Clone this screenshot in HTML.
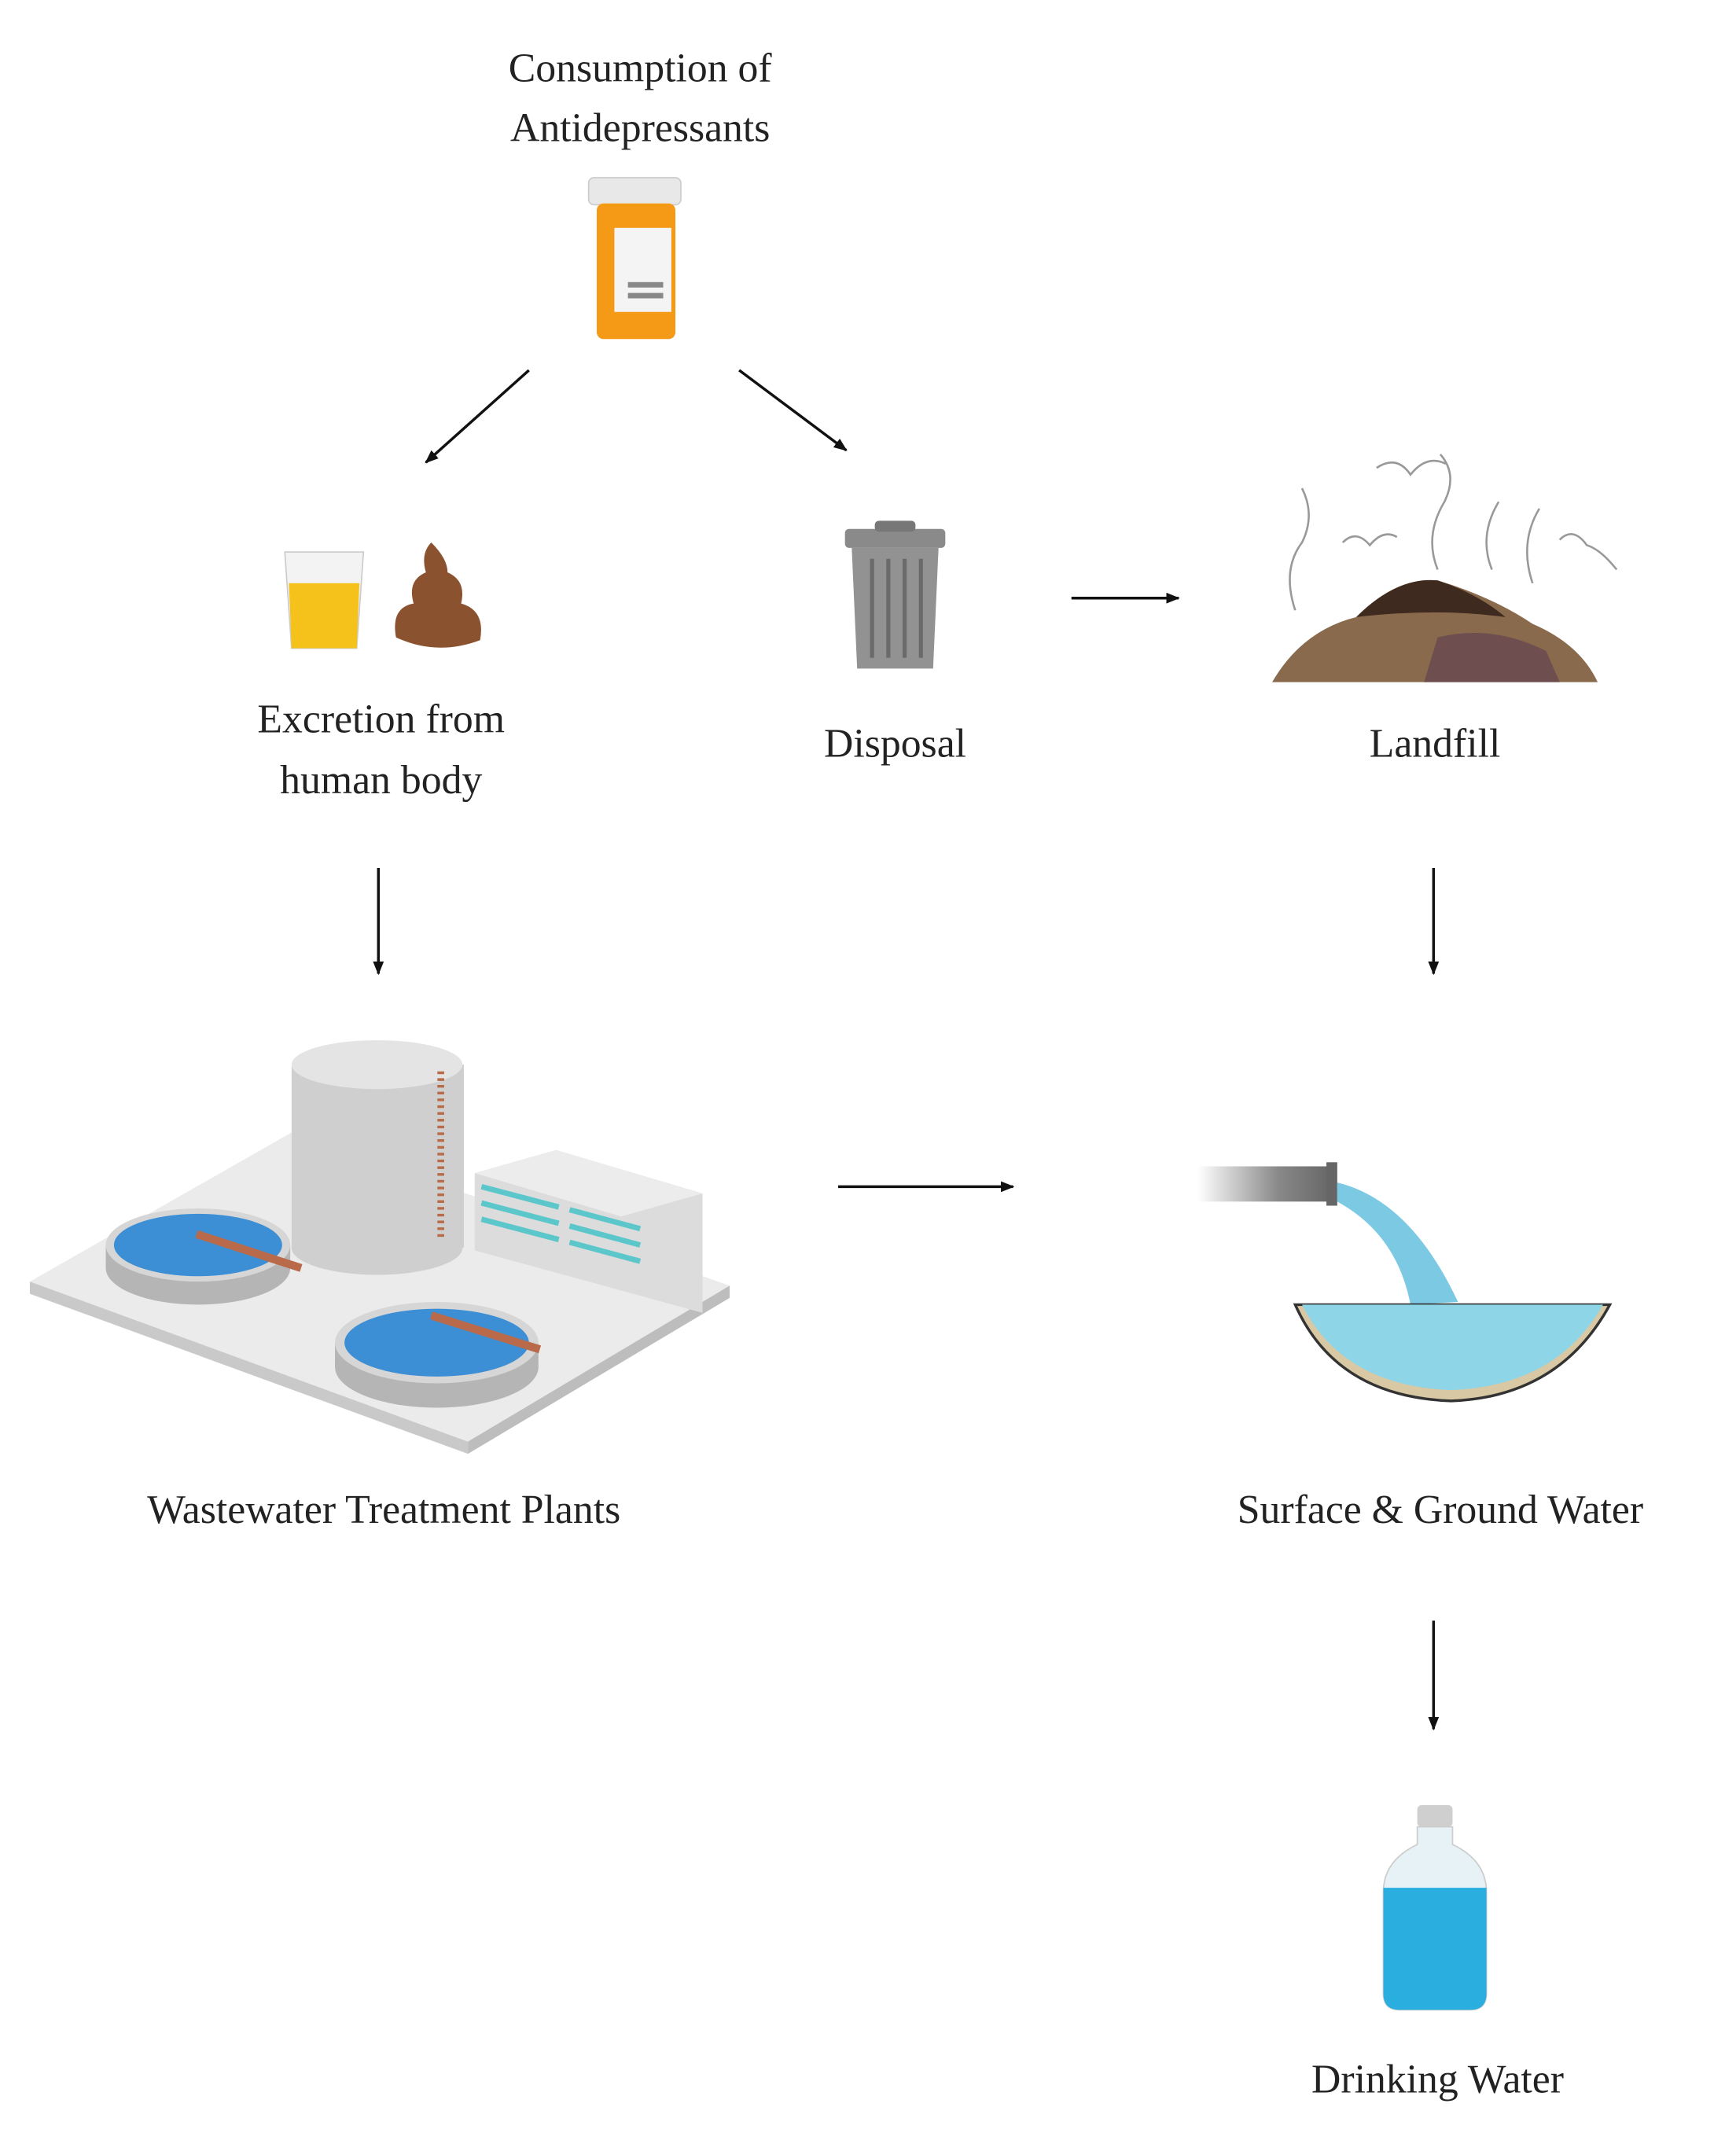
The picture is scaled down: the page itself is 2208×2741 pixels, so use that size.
<!DOCTYPE html>
<html><head><meta charset="utf-8"><style>
html,body{margin:0;padding:0;background:#fff;}
svg{display:block;}
text{font-family:"Liberation Serif",serif;fill:#222;}
</style></head><body>
<svg width="2208" height="2741" viewBox="0 0 1280 1589" preserveAspectRatio="none" xmlns="http://www.w3.org/2000/svg">
<defs>
<marker id="ah" markerWidth="10" markerHeight="10" refX="9" refY="5" orient="auto" markerUnits="userSpaceOnUse">
<path d="M0,1 L10,5 L0,9 Z" fill="#111"/></marker>
<linearGradient id="pipe" x1="0" x2="1"><stop offset="0" stop-color="#fff"/><stop offset="0.6" stop-color="#888"/><stop offset="1" stop-color="#666"/></linearGradient>
</defs>
<g font-size="30" text-anchor="middle">
<text x="472" y="60">Consumption of</text>
<text x="472" y="104">Antidepressants</text>
<text x="281" y="540">Excretion from</text>
<text x="281" y="585">human body</text>
<text x="660" y="558">Disposal</text>
<text x="1058" y="558">Landfill</text>
<text x="283" y="1123">Wastewater Treatment Plants</text>
<text x="1062" y="1123">Surface &amp; Ground Water</text>
<text x="1060" y="1543">Drinking Water</text>
</g>
<g stroke="#111" stroke-width="2" fill="none" marker-end="url(#ah)">
<line x1="390" y1="273" x2="314" y2="341"/>
<line x1="545" y1="273" x2="624" y2="332"/>
<line x1="790" y1="441" x2="869" y2="441"/>
<line x1="279" y1="640" x2="279" y2="718"/>
<line x1="1057" y1="640" x2="1057" y2="718"/>
<line x1="618" y1="875" x2="747" y2="875"/>
<line x1="1057" y1="1195" x2="1057" y2="1275"/>
</g>
<!-- pill bottle -->
<rect x="434" y="131" width="68" height="20" rx="4" fill="#e8e8e8" stroke="#ccc"/>
<rect x="440" y="150" width="58" height="100" rx="5" fill="#f59a16"/>
<rect x="453" y="168" width="42" height="62" fill="#f4f4f4"/>
<rect x="463" y="208" width="26" height="4" fill="#888"/><rect x="463" y="216" width="26" height="4" fill="#888"/>
<!-- urine cup -->
<path d="M210,407 L268,407 L263,478 L215,478 Z" fill="#f3f3f3" stroke="#ccc"/>
<path d="M213,430 L265,430 L263,478 L215,478 Z" fill="#f5c21b"/>
<!-- poop -->
<path d="M292,470 Q288,448 305,445 Q300,428 314,422 Q310,408 318,400 Q330,412 330,422 Q344,428 340,445 Q358,450 354,472 Q322,484 292,470 Z" fill="#8b5230"/>
<!-- trash can -->
<rect x="623" y="390" width="74" height="14" rx="3" fill="#8a8a8a"/>
<rect x="645" y="384" width="30" height="8" rx="3" fill="#777"/>
<path d="M628,404 L692,404 L688,493 L632,493 Z" fill="#929292"/>
<g stroke="#6a6a6a" stroke-width="3"><line x1="643" y1="412" x2="643" y2="485"/><line x1="655" y1="412" x2="655" y2="485"/><line x1="667" y1="412" x2="667" y2="485"/><line x1="679" y1="412" x2="679" y2="485"/></g>
<!-- landfill -->
<path d="M938,503 Q960,465 1000,455 Q1030,425 1060,428 Q1100,440 1130,460 Q1165,475 1178,503 Z" fill="#8a6a4c"/>
<path d="M1000,455 Q1030,425 1060,428 Q1090,438 1110,455 Q1060,448 1000,455 Z" fill="#3e2a1e"/>
<path d="M1060,470 Q1100,460 1140,480 L1150,503 L1050,503 Z" fill="#6e4e4e"/>
<g stroke="#999" fill="none" stroke-width="1.5">
<path d="M1015,345 Q1030,335 1040,350 Q1052,335 1066,342"/><path d="M990,400 Q1000,390 1010,402 Q1020,390 1030,396"/><path d="M1150,398 Q1160,388 1170,402 Q1180,405 1192,420"/>
<path d="M955,450 Q945,420 960,400 Q970,380 960,360"/><path d="M1060,420 Q1050,395 1065,370 Q1075,350 1062,335"/><path d="M1100,420 Q1090,395 1105,370"/><path d="M1130,430 Q1120,400 1135,375"/>
</g>
<!-- WWTP -->
<path d="M22,945 L345,1063 L538,948 L215,835 Z" fill="#ebebeb"/>
<path d="M22,945 L345,1063 L345,1072 L22,954 Z" fill="#c9c9c9"/>
<path d="M345,1063 L538,948 L538,957 L345,1072 Z" fill="#bdbdbd"/>
<rect x="215" y="785" width="127" height="135" fill="#cfcfcf"/>
<ellipse cx="278" cy="920" rx="63" ry="20" fill="#cfcfcf"/>
<ellipse cx="278" cy="785" rx="63" ry="18" fill="#e4e4e4"/>
<line x1="325" y1="790" x2="325" y2="915" stroke="#b86a4a" stroke-width="5" stroke-dasharray="2 3"/>
<path d="M350,865 L410,848 L518,880 L518,968 L350,922 Z" fill="#dcdcdc"/>
<path d="M350,865 L410,848 L518,880 L458,897 Z" fill="#ececec"/>
<g stroke="#5cc7cb" stroke-width="4"><line x1="355" y1="875" x2="412" y2="890"/><line x1="355" y1="887" x2="412" y2="902"/><line x1="355" y1="899" x2="412" y2="914"/><line x1="420" y1="892" x2="472" y2="906"/><line x1="420" y1="904" x2="472" y2="918"/><line x1="420" y1="916" x2="472" y2="930"/></g>
<ellipse cx="146" cy="935" rx="68" ry="27" fill="#b5b5b5"/><rect x="78" y="918" width="136" height="17" fill="#b5b5b5"/>
<ellipse cx="146" cy="918" rx="68" ry="27" fill="#d6d6d6"/><ellipse cx="146" cy="918" rx="62" ry="23" fill="#3c8fd4"/>
<line x1="145" y1="910" x2="222" y2="935" stroke="#b86a4a" stroke-width="6"/>
<ellipse cx="322" cy="1008" rx="75" ry="30" fill="#b5b5b5"/><rect x="247" y="990" width="150" height="18" fill="#b5b5b5"/>
<ellipse cx="322" cy="990" rx="75" ry="30" fill="#d6d6d6"/><ellipse cx="322" cy="990" rx="68" ry="25" fill="#3c8fd4"/>
<line x1="318" y1="970" x2="398" y2="995" stroke="#b86a4a" stroke-width="6"/>
<!-- surface water -->
<rect x="883" y="860" width="100" height="26" fill="url(#pipe)"/>
<rect x="978" y="857" width="8" height="32" fill="#666"/>
<path d="M986,872 Q1040,885 1075,960 L1040,962 Q1030,910 986,886 Z" fill="#6ec3e0" opacity="0.9"/>
<path d="M955,962 L1187,962 Q1150,1030 1070,1033 Q985,1030 955,962 Z" fill="#d8c9a4" stroke="#333" stroke-width="2"/>
<path d="M960,962 L1182,962 Q1148,1022 1070,1025 Q990,1022 960,962 Z" fill="#8ed5e8"/>
<!-- bottle -->
<rect x="1045" y="1331" width="26" height="16" rx="3" fill="#cfcfcf"/>
<path d="M1045,1347 L1071,1347 L1071,1360 Q1096,1372 1096,1395 L1096,1470 Q1096,1482 1084,1482 L1032,1482 Q1020,1482 1020,1470 L1020,1395 Q1020,1372 1045,1360 Z" fill="#e6f2f6" stroke="#ccc"/>
<path d="M1020,1392 L1096,1392 L1096,1470 Q1096,1482 1084,1482 L1032,1482 Q1020,1482 1020,1470 Z" fill="#2aaee0"/>
</svg>
</body></html>
